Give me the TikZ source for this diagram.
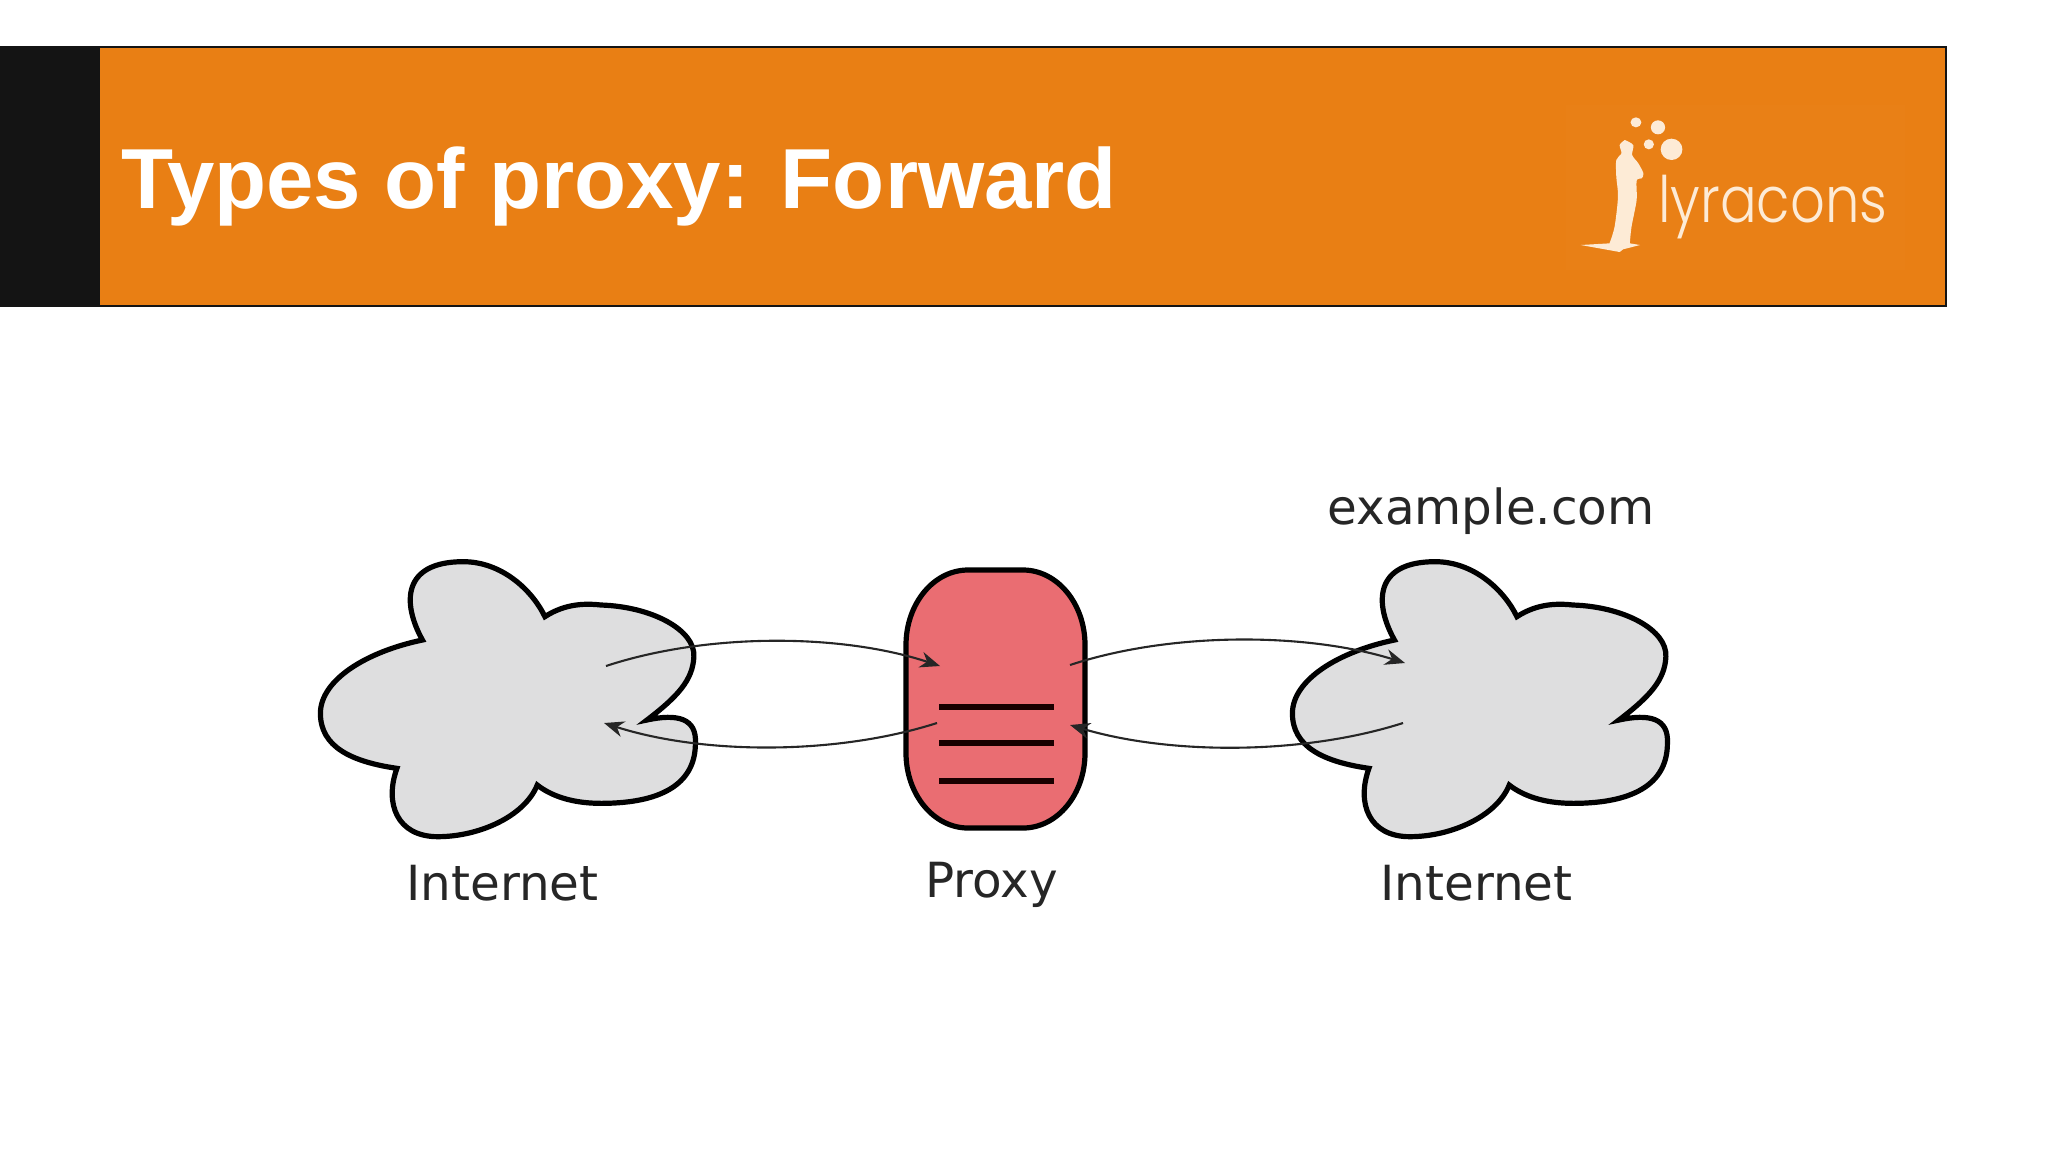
\documentclass[tikz,border=0pt]{standalone}
\usepackage{fontspec}
\setmainfont{Liberation Sans}
\newfontfamily\labelfont{DejaVu Sans}
\newfontfamily\logofont{Poppins Light}
\usetikzlibrary{arrows.meta}
\definecolor{barorange}{HTML}{E97F14}
\definecolor{barblack}{HTML}{141414}
\definecolor{cloudgrey}{HTML}{DEDEDF}
\definecolor{proxyred}{HTML}{EA6D72}
\definecolor{logocream}{HTML}{FDEBD6}
\newcommand{\cloudoutline}{
  (240,300) .. controls (200,190) and (200,65) .. (320,65)
  .. controls (395,65) and (455,150) .. (480,230)
  .. controls (520,190) and (560,190) .. (590,195)
  .. controls (690,200) and (775,270) .. (772,350)
  .. controls (770,420) and (740,470) .. (680,540)
  .. controls (740,520) and (778,535) .. (775,610)
  .. controls (775,720) and (720,790) .. (590,790)
  .. controls (530,790) and (490,765) .. (465,735)
  .. controls (440,830) and (350,890) .. (270,890)
  .. controls (190,890) and (165,790) .. (190,685)
  .. controls (100,665) and (40,620) .. (40,520)
  .. controls (40,420) and (130,335) .. (240,300)
  -- cycle}
\tikzset{
  cloudshape/.style={draw=black,fill=cloudgrey,line width=2.6pt,line join=miter,miter limit=6},
  cloudgrid/.style={x=0.25510pt,y=-0.16667pt},
  proxybox/.style={minimum width=89.5pt,minimum height=129pt,inner sep=0pt},
  proxyshape/.style={draw=black,fill=proxyred,line width=2.6pt},
  barline/.style={line width=3.4pt,black!90!red},
  flow/.style={line width=1.05pt,draw=black!85,-{Stealth[length=10pt,width=8pt]}},
  diagramlabel/.style={font=\labelfont\fontsize{24.2}{28}\selectfont,text=black!85,anchor=base west,inner sep=0pt},
  logodot/.style={fill=logocream,draw=none}
}
\begin{document}
\begin{tikzpicture}[x=0.5pt,y=-0.5pt]
\useasboundingbox (0,0) rectangle (2048,1152);
\fill[white] (0,0) rectangle (2048,1152);
% header
\fill[barorange] (100,47) rectangle (1946,306);
\fill[barblack] (0,47) rectangle (100,306);
\draw[barblack,line width=.8pt] (0,47) -- (1946,47) -- (1946,306) -- (0,306);
\node[font=\bfseries\fontsize{42.6}{50}\selectfont,text=white,anchor=base west,inner sep=0pt] (title) at (121,208) {Types of proxy: Forward};
% logo
\fill[barorange!99!white] (1566,105) rectangle (1905,270);
\begin{scope}[shift={(1540,90)},x=0.16949pt,y=-0.16667pt]
  \fill[logocream] plot[smooth,tension=.5] coordinates {(250,150) (275,165) (272,195) (290,220) (305,250) (300,265) (285,272) (285,330) (270,410) (265,460)}
     -- (295,465) -- (245,478) -- (235,486) -- (120,465) -- (205,460)
     -- plot[smooth,tension=.5] coordinates {(205,460) (220,410) (230,320) (225,260) (225,210) (240,190) (235,165) (250,150)} -- cycle;
  \fill[logodot] (283,97) ellipse [x radius=16,y radius=15];
  \fill[logodot] (348,112) ellipse [x radius=21,y radius=21];
  \fill[logodot] (321,163) ellipse [x radius=15,y radius=15];
  \fill[logodot] (388,178) ellipse [x radius=32,y radius=32];
\end{scope}
\node[anchor=base west,inner sep=0pt,text=logocream,font=\logofont\fontsize{32}{36}\selectfont] (logo) at (1658,222) {\scalebox{0.85}[1]{lyracons}};
% clouds
\begin{scope}[shift={(300,540)},cloudgrid]
  \draw[cloudshape] \cloudoutline;
\end{scope}
\begin{scope}[shift={(1272,540)},cloudgrid]
  \draw[cloudshape] \cloudoutline;
\end{scope}
% proxy
\node[proxybox] (proxy) at (995.5,699) {};
\draw[proxyshape] (906,645) arc [start angle=180,end angle=270,x radius=62,y radius=75]
  -- (1023,570) arc [start angle=270,end angle=360,x radius=62,y radius=75]
  -- (1085,753) arc [start angle=0,end angle=90,x radius=62,y radius=75]
  -- (968,828) arc [start angle=90,end angle=180,x radius=62,y radius=75] -- cycle;
\coordinate (b1l) at (939,707); \coordinate (b1r) at (1054,707);
\coordinate (b2l) at (939,743); \coordinate (b2r) at (1054,743);
\coordinate (b3l) at (939,781); \coordinate (b3r) at (1054,781);
\draw[barline] (b1l) -- (b1r);
\draw[barline] (b2l) -- (b2r);
\draw[barline] (b3l) -- (b3r);
% connector ends
\coordinate (c1out) at (606,666);
\coordinate (c1in) at (604,723);
\coordinate (pl1) at (940,666);
\coordinate (pl2) at (937,723);
\coordinate (pr1) at (1070,665);
\coordinate (pr2) at (1070,725);
\coordinate (c2in) at (1405,663);
\coordinate (c2out) at (1403,723);
\draw[flow] (c1out) .. controls +(100,-33) and +(-100,-33) .. (pl1);
\draw[flow] (pl2) .. controls +(-100,32) and +(100,32) .. (c1in);
\draw[flow] (pr1) .. controls +(100,-33) and +(-100,-31) .. (c2in);
\draw[flow] (c2out) .. controls +(-100,32) and +(100,30) .. (pr2);
% labels
\node[diagramlabel] (inetl) at (406,900) {Internet};
\node[diagramlabel] (proxylabel) at (925,897) {Proxy};
\node[diagramlabel] (inetr) at (1380,900) {Internet};
\node[diagramlabel] (example) at (1327,524) {example.com};
\end{tikzpicture}
\end{document}
